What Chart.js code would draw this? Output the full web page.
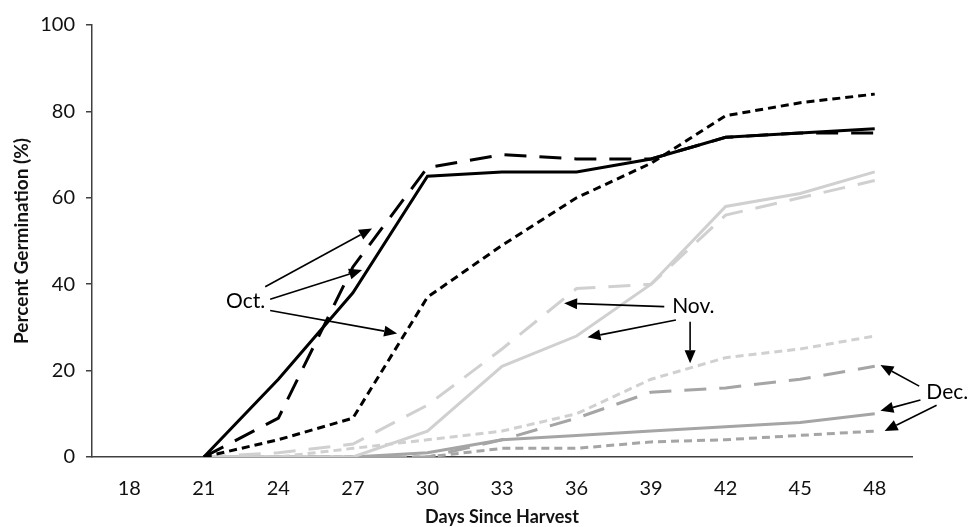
<!DOCTYPE html>
<html>
<head>
<meta charset="utf-8">
<script src="https://cdn.jsdelivr.net/npm/chart.js@4"></script>
<style>
  body { margin: 0; background: #fff; }
  #wrap { width: 970px; height: 527px; }
</style>
</head>
<body>
<div id="wrap"><canvas id="germChart" width="970" height="527"></canvas></div>
<script>
// days since harvest (x categories)
const days = ["18", "21", "24", "27", "30", "33", "36", "39", "42", "45", "48"];

// percent germination, one array per harvest month and line style
const octSolid = [null, 0, 18, 38, 65, 66, 66, 69, 74, 75, 76];
const octLongDash = [null, 0, 9, 44, 67, 70, 69, 69, 74, 75, 75];
const octShortDash = [null, 0, 4, 9, 37, 49, 60, 68, 79, 82, 84];

const novSolid = [null, 0, 0, 0, 6, 21, 28, 40, 58, 61, 66];
const novLongDash = [null, 0, 1, 3, 12, 25, 39, 40, 56, 60, 64];
const novShortDash = [null, 0, 0, 2, 4, 6, 10, 18, 23, 25, 28];

const decSolid = [null, 0, 0, 0, 1, 4, 5, 6, 7, 8, 10];
const decLongDash = [null, 0, 0, 0, 0, 4, 9, 15, 16, 18, 21];
const decShortDash = [null, 0, 0, 0, 0, 2, 2, 3.5, 4, 5, 6];

const yTicks = [0, 20, 40, 60, 80, 100];

// callout labels and arrows, in data units: [day, percent]
const calloutLabels = [
  { text: "Oct.", at: [22.68, 36.1] },
  { text: "Nov.", at: [40.7, 34.95] },
  { text: "Dec.", at: [50.92, 15.1] },
];
// [fromDay, fromPct, toDay, toPct]
const calloutArrows = [
  [23.47, 39.4, 27.77, 52.9],
  [23.67, 36.5, 27.37, 43.3],
  [23.67, 33.9, 28.78, 28.6],
  [39.53, 34.8, 35.5, 35.6],
  [40.0, 31.7, 36.44, 27.7],
  [40.57, 31.3, 40.57, 21.7],
  [49.79, 16.4, 48.23, 21.3],
  [49.84, 13.2, 48.23, 10.7],
  [50.49, 12.0, 48.4, 6.0],
];

document.addEventListener("DOMContentLoaded", () => {
  const ctx = document.getElementById("germChart").getContext("2d");
  const FONT = "Lato, 'Open Sans', sans-serif";

  const BLACK = "#000000";
  const LIGHT = "#d0d0d0";
  const MID = "#a5a5a5";
  const LONG = [22, 13];
  const SHORT = [8, 5];

  function line(label, data, color, dash) {
    return {
      label: label,
      data: data,
      borderColor: color,
      backgroundColor: color,
      borderWidth: 3,
      borderDash: dash,
      borderCapStyle: "butt",
      pointRadius: 0,
      tension: 0,
      fill: false,
      spanGaps: false,
    };
  }

  function dayToIndex(day) {
    return (day - parseFloat(days[0])) / (parseFloat(days[1]) - parseFloat(days[0]));
  }

  const calloutPlugin = {
    id: "callouts",
    afterDatasetsDraw(chart) {
      const xs = chart.scales.x;
      const ys = chart.scales.y;
      const c = chart.ctx;
      c.save();
      c.strokeStyle = "#000";
      c.fillStyle = "#000";
      c.lineWidth = 1.6;
      calloutArrows.forEach(([d0, p0, d1, p1]) => {
        const x0 = xs.getPixelForValue(dayToIndex(d0));
        const y0 = ys.getPixelForValue(p0);
        const x1 = xs.getPixelForValue(dayToIndex(d1));
        const y1 = ys.getPixelForValue(p1);
        const ang = Math.atan2(y1 - y0, x1 - x0);
        const headLen = 13;
        const headW = 5.5;
        const bx = x1 - headLen * Math.cos(ang);
        const by = y1 - headLen * Math.sin(ang);
        c.beginPath();
        c.moveTo(x0, y0);
        c.lineTo(bx, by);
        c.stroke();
        c.beginPath();
        c.moveTo(x1, y1);
        c.lineTo(bx + headW * Math.sin(ang), by - headW * Math.cos(ang));
        c.lineTo(bx - headW * Math.sin(ang), by + headW * Math.cos(ang));
        c.closePath();
        c.fill();
      });
      c.font = "21px " + FONT;
      c.textAlign = "center";
      c.textBaseline = "middle";
      calloutLabels.forEach((l) => {
        c.fillText(l.text, xs.getPixelForValue(dayToIndex(l.at[0])), ys.getPixelForValue(l.at[1]));
      });
      c.restore();
    },
  };

  new Chart(ctx, {
    type: "line",
    data: {
      labels: days,
      datasets: [
        line("Oct. solid", octSolid, BLACK, []),
        line("Oct. long dash", octLongDash, BLACK, LONG),
        line("Oct. short dash", octShortDash, BLACK, SHORT),
        line("Nov. solid", novSolid, LIGHT, []),
        line("Nov. long dash", novLongDash, LIGHT, LONG),
        line("Nov. short dash", novShortDash, LIGHT, SHORT),
        line("Dec. solid", decSolid, MID, []),
        line("Dec. long dash", decLongDash, MID, LONG),
        line("Dec. short dash", decShortDash, MID, SHORT),
      ],
    },
    options: {
      responsive: false,
      animation: false,
      layout: { padding: { top: 25, right: 58, bottom: 0, left: 0 } },
      plugins: {
        legend: { display: false },
        tooltip: { enabled: false },
      },
      scales: {
        x: {
          offset: true,
          grid: { display: false },
          border: { display: true, color: "#404040", width: 1.5 },
          ticks: {
            color: "#111",
            font: { family: FONT, size: 20 },
            padding: 12,
            maxRotation: 0,
          },
          title: {
            display: true,
            text: "Days Since Harvest",
            color: "#111",
            font: { family: FONT, size: 18, weight: "bold" },
            padding: { top: 0, bottom: -1 },
          },
          afterFit(scale) {
            scale.height = 70;
          },
        },
        y: {
          min: 0,
          max: 100,
          afterBuildTicks(scale) {
            scale.ticks = yTicks.map((v) => ({ value: v }));
          },
          grid: {
            display: true,
            drawOnChartArea: false,
            drawTicks: true,
            tickLength: 6,
            color: "#404040",
            lineWidth: 1.5,
          },
          border: { display: true, color: "#404040", width: 1.5 },
          ticks: {
            color: "#111",
            font: { family: FONT, size: 20 },
            padding: 11,
          },
          title: {
            display: true,
            text: "Percent Germination (%)",
            color: "#111",
            font: { family: FONT, size: 19, weight: "bold" },
            padding: { top: 10, bottom: 0 },
          },
          afterFit(scale) {
            scale.width = 92;
          },
        },
      },
    },
    plugins: [calloutPlugin],
  });
});
</script>
</body>
</html>
